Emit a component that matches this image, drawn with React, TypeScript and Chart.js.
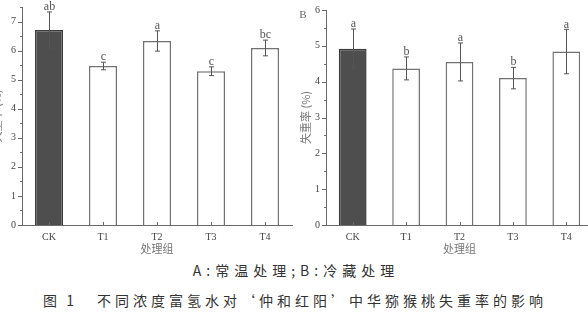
import React, { useEffect, useRef } from 'react';
import { Chart, registerables } from 'chart.js';

Chart.register(...registerables);

// ---- data ----
const categories = ['CK', 'T1', 'T2', 'T3', 'T4'];

const roomTempMeans = [6.71, 5.47, 6.33, 5.29, 6.09];
const roomTempErrors = [0.62, 0.13, 0.35, 0.15, 0.27];
const roomTempLetters = ['ab', 'c', 'a', 'c', 'bc'];

const coldMeans = [4.92, 4.37, 4.55, 4.1, 4.84];
const coldErrors = [0.55, 0.32, 0.53, 0.3, 0.62];
const coldLetters = ['a', 'b', 'a', 'b', 'a'];

const yTitle = '失重率 (%)';
const xTitle = '处理组';
const captionLine1 = 'A:常温处理;B:冷藏处理';
const figureNo = '图 1';
const captionLine2 = '不同浓度富氢水对‘仲和红阳’中华猕猴桃失重率的影响';

const SERIF = '"Liberation Serif", "DejaVu Serif", serif';
const CJK = '"Noto Sans CJK SC", "Noto Sans", sans-serif';
const AXIS_COLOR = '#6a6a6a';

const errorBarPlugin = {
  id: 'errorBars',
  afterDatasetsDraw(chart: any, _args: any, opts: any) {
    const { ctx, scales } = chart;
    const x = scales.x;
    const y = scales.y;
    const meta = chart.getDatasetMeta(0);
    const means: number[] = chart.data.datasets[0].data;
    ctx.save();
    // axis ticks (drawn through the scales)
    ctx.strokeStyle = AXIS_COLOR;
    ctx.lineWidth = 1;
    for (let v = 0; v <= y.max + 1e-9; v += 0.5) {
      const py = Math.round(y.getPixelForValue(v)) + 0.5;
      const major = Math.abs(v - Math.round(v)) < 1e-6;
      ctx.beginPath();
      ctx.moveTo(y.right, py);
      ctx.lineTo(y.right - (major ? 4 : 2), py);
      ctx.stroke();
    }
    for (let i = 0; i < categories.length; i++) {
      const px = Math.round(x.getPixelForValue(i)) + 0.5;
      ctx.beginPath();
      ctx.moveTo(px, x.top);
      ctx.lineTo(px, x.top - 3);
      ctx.stroke();
    }
    // error bars and letters
    ctx.strokeStyle = '#555';
    ctx.fillStyle = '#555';
    ctx.font = `12px ${SERIF}`;
    ctx.textAlign = 'center';
    ctx.textBaseline = 'middle';
    meta.data.forEach((el: any, i: number) => {
      const m = means[i];
      const e = opts.errors[i];
      const cx = Math.round(el.x) + 0.5;
      const top = y.getPixelForValue(m + e);
      const bot = y.getPixelForValue(m - e);
      ctx.beginPath();
      ctx.moveTo(cx, top);
      ctx.lineTo(cx, bot);
      ctx.moveTo(cx - 2.5, top);
      ctx.lineTo(cx + 2.5, top);
      ctx.moveTo(cx - 2.5, bot);
      ctx.lineTo(cx + 2.5, bot);
      ctx.stroke();
      ctx.fillText(opts.letters[i], cx, top - 5);
    });
    if (opts.panel) {
      ctx.font = `11px ${SERIF}`;
      ctx.fillStyle = '#666';
      ctx.fillText(opts.panel, y.left + 19, 15);
    }
    ctx.restore();
  },
};

type PanelProps = {
  left: number;
  width: number;
  padTop: number;
  padRight: number;
  titlePad: number;
  yMax: number;
  means: number[];
  errors: number[];
  letters: string[];
  panel?: string;
};

function Panel({ left, width, padTop, padRight, titlePad, yMax, means, errors, letters, panel }: PanelProps) {
  const ref = useRef<HTMLCanvasElement>(null);
  useEffect(() => {
    const chart = new Chart(ref.current as HTMLCanvasElement, {
      type: 'bar',
      data: {
        labels: categories,
        datasets: [
          {
            data: means,
            backgroundColor: means.map((_, i) => (i === 0 ? '#4e4e4e' : '#ffffff')),
            borderColor: means.map((_, i) => (i === 0 ? '#3c3c3c' : '#727272')),
            borderWidth: 1.5,
            barPercentage: 0.52,
            categoryPercentage: 1,
          },
        ],
      },
      options: {
        responsive: false,
        animation: false,
        devicePixelRatio: 1,
        layout: { padding: { top: padTop, right: padRight, left: 0, bottom: 0 } },
        plugins: {
          legend: { display: false },
          tooltip: { enabled: false },
          errorBars: { errors, letters, panel },
        } as any,
        scales: {
          x: {
            grid: { display: false, drawTicks: false },
            border: { display: true, color: AXIS_COLOR, width: 1 },
            ticks: { padding: 6, color: '#444', font: { family: SERIF, size: 10 } },
            title: {
              display: true,
              text: xTitle,
              color: '#777',
              font: { family: CJK, size: 11, lineHeight: 1.2 },
              padding: 0,
            },
            afterFit: (s: any) => {
              s.height = 30;
              s.paddingLeft = 0;
              s.paddingRight = 0;
            },
          },
          y: {
            min: 0,
            max: yMax,
            grid: { display: false, drawTicks: false },
            border: { display: true, color: AXIS_COLOR, width: 1 },
            ticks: {
              stepSize: 1,
              includeBounds: false,
              padding: 6,
              color: '#444',
              font: { family: SERIF, size: 10 },
            },
            title: {
              display: true,
              text: yTitle,
              color: '#777',
              font: { family: CJK, size: 11, lineHeight: 1.2 },
              padding: { top: titlePad, bottom: 0 },
            },
            afterFit: (s: any) => {
              s.width = 42;
              s.paddingTop = 0;
              s.paddingBottom = 0;
            },
          },
        },
      } as any,
      plugins: [errorBarPlugin],
    });
    return () => chart.destroy();
  }, []);
  return (
    <canvas
      ref={ref}
      width={width}
      height={255}
      style={{ position: 'absolute', left, top: 0, width, height: 255 }}
    />
  );
}

export default function App() {
  return (
    <div
      style={{
        position: 'absolute',
        left: 0,
        top: 0,
        width: 588,
        height: 317,
        overflow: 'hidden',
        background: '#ffffff',
      }}
    >
      <Panel
        left={-20}
        width={320}
        padTop={7}
        padRight={8}
        titlePad={10}
        yMax={7.5}
        means={roomTempMeans}
        errors={roomTempErrors}
        letters={roomTempLetters}
      />
      <Panel
        left={284}
        width={316}
        padTop={10}
        padRight={7}
        titlePad={15}
        yMax={6}
        means={coldMeans}
        errors={coldErrors}
        letters={coldLetters}
        panel="B"
      />
      <div
        style={{
          position: 'absolute',
          top: 262,
          left: 0,
          width: 592,
          textAlign: 'center',
          font: `14px ${CJK}`,
          lineHeight: '17px',
          letterSpacing: '5px',
          color: '#333',
          whiteSpace: 'nowrap',
        }}
      >
        {captionLine1}
      </div>
      <div
        style={{
          position: 'absolute',
          top: 292,
          left: 43,
          font: `14px ${CJK}`,
          lineHeight: '17px',
          letterSpacing: '3px',
          color: '#333',
          whiteSpace: 'nowrap',
        }}
      >
        {figureNo}
      </div>
      <div
        style={{
          position: 'absolute',
          top: 292,
          left: 97,
          font: `14px ${CJK}`,
          lineHeight: '17px',
          letterSpacing: '4px',
          color: '#333',
          whiteSpace: 'nowrap',
        }}
      >
        {captionLine2}
      </div>
    </div>
  );
}
